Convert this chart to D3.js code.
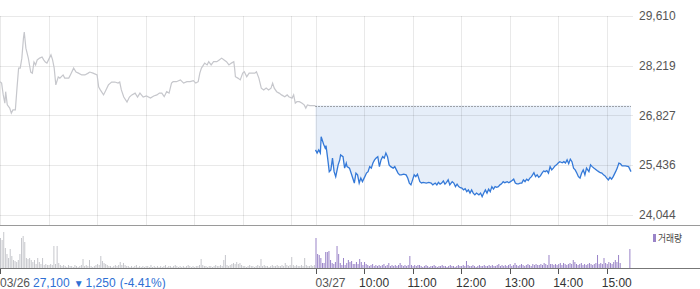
<!DOCTYPE html>
<html><head><meta charset="utf-8">
<script src="https://cdn.jsdelivr.net/npm/d3@7"></script>
<style>body{margin:0;background:#fff}svg{display:block}</style>
</head><body><svg id="c" width="700" height="289"></svg>
<script>
// minutes since 09:00 and prices, day 1 (03/26)
const d1Min=[0,2,4,6,7,9,12,14,16,19,21,23,25,27,29,30,32,35,38,40,42,44,46,49,52,54,56,58,61,63,65,67,69,72,74,78,80,85,87,91,94,97,101,105,109,111,115,120,122,124,128,131,134,138,142,146,148,150,153,157,160,163,167,170,173,177,181,186,190,194,197,200,203,206,209,212,214,218,223,227,231,235,239,242,245,247,249,253,256,258,261,264,268,271,274,277,280,283,286,289,290,291,294,297,300,302,305,308,311,315,317,320,323,326,329,332,335,337,339,342,345,348,352,355,357,361,363,365,367,370,373,376,378,380,383,390];
const d1Price=[27770,27730,27400,27170,27490,27120,27030,26890,26980,26980,27590,28150,28150,28430,28990,29160,28710,28430,28040,28010,28320,28240,28380,28430,28460,28380,28320,28290,28430,28520,28380,28150,27680,27900,27870,27960,27870,27870,27960,28150,28040,28010,27960,27960,28010,28040,28010,27960,27620,27540,27400,27540,27680,27760,27760,27730,27760,27540,27340,27200,27340,27400,27450,27340,27450,27340,27370,27310,27370,27400,27450,27450,27350,27490,27450,27730,27770,27770,27820,27730,27770,27770,27800,27730,27770,28010,28150,28290,28240,28330,28240,28330,28330,28380,28430,28380,28330,28240,28290,28330,28150,27910,27870,27820,28010,28050,27910,28010,28010,28010,28050,27870,27590,27540,27590,27540,27590,27730,27590,27490,27450,27400,27350,27400,27350,27310,27400,27170,27210,27210,27170,27120,27030,27120,27100,27100];
// day 2 (03/27)
const d2Min=[0,2,4,6,7,10,12,13,15,17,19,21,23,25,28,30,31,34,36,38,39,42,44,46,48,50,52,54,56,58,61,63,65,67,69,71,73,75,77,79,81,83,85,87,89,91,93,96,98,100,102,104,106,109,112,114,116,118,120,122,124,126,129,131,133,137,140,143,145,148,150,152,154,156,158,160,162,164,166,169,171,173,175,177,179,181,183,185,187,189,191,193,195,197,199,202,204,206,208,210,212,214,216,218,220,222,224,226,228,230,232,234,237,239,241,243,245,247,249,251,253,255,257,259,261,263,265,267,270,272,274,276,278,280,282,284,286,288,290,292,294,296,298,300,302,305,307,309,311,313,315,317,319,321,323,325,327,329,331,333,335,338,340,342,344,346,348,350,352,354,356,358,360,362,364,366,368,371,373,375,377,379,383,387,390];
const d2Price=[25860,25770,25860,25770,26230,26020,25910,25980,25630,25250,25300,25630,25250,25110,25440,25580,25720,25670,25350,25490,25390,25350,25210,25070,24930,25210,25160,24930,25070,24970,25110,25210,25250,25390,25350,25490,25580,25630,25670,25390,25580,25670,25630,25770,25670,25440,25390,25350,25390,25300,25210,25160,25160,25180,25160,25070,24930,24880,25020,25160,25110,25180,24970,24930,24950,24930,24950,24930,24880,24930,24880,24950,24900,24930,24990,24900,24950,25020,24880,24970,24930,24830,24900,24830,24800,24790,24740,24770,24690,24740,24650,24740,24650,24600,24650,24600,24650,24550,24650,24740,24650,24760,24690,24830,24760,24830,24810,24830,24880,24910,24970,24940,24970,24940,24970,25000,25040,24930,24910,24910,24930,24930,25020,24970,25040,25000,25070,25110,25220,25110,25160,25090,25130,25210,25270,25250,25280,25210,25390,25300,25350,25410,25440,25490,25530,25500,25530,25490,25580,25470,25600,25530,25350,25300,25210,25110,25070,25210,25300,25160,25350,25250,25440,25390,25350,25320,25280,25250,25220,25210,25160,25130,25070,25020,25090,25040,25110,25250,25350,25490,25470,25410,25410,25390,25250];
// volume per 2-minute bin
const vol1=[300,280,360,200,140,100,190,120,80,70,60,80,140,300,320,260,100,90,100,80,60,80,40,100,60,40,100,30,40,30,30,40,30,220,40,220,50,30,
20,30,20,10,30,20,20,10,30,20,10,20,30,
90,20,30,20,80,20,10,20,30,
40,30,120,70,50,40,30,20,20,10,20,30,20,30,60,30,50,30,20,20,
10,20,10,20,30,10,20,10,20,10,20,20,10,30,10,20,10,20,10,20,10,20,30,10,20,20,10,20,
30,20,10,20,10,20,10,20,30,20,10,20,10,20,20,30,
90,30,20,20,10,20,20,10,20,30,20,20,30,20,
80,130,30,20,30,40,50,40,60,40,50,
30,20,20,10,20,30,20,20,10,20,30,20,
90,20,30,20,20,10,20,30,20,20,30,20,20,30,20,
50,30,20,30,110,30,20,30,20,20,30,20,100,30,20,20,30,20,30];
const vol2=[300,140,130,100,50,50,160,160,170,80,50,40,60,220,140,50,30,100,30,50,80,60,70,40,40,60,40,90,60,30,
60,40,30,20,30,40,20,30,20,30,20,30,40,20,30,
50,20,30,20,30,20,30,50,30,20,30,20,30,120,30,20,30,20,30,30,
20,10,20,30,20,10,20,20,30,20,10,20,20,30,20,20,10,20,30,20,20,10,20,30,20,20,30,20,
70,30,20,20,30,20,10,20,30,20,20,30,20,20,30,20,30,20,20,30,40,20,30,20,30,20,30,40,20,30,
50,30,20,30,40,30,20,30,40,30,20,40,30,40,30,30,40,30,50,40,30,
130,40,40,30,40,30,40,50,30,50,40,30,40,50,40,80,60,40,30,40,50,30,40,30,40,50,40,30,40,50,
130,40,50,40,100,50,40,60,50,40,60,80,60,130,50,0,0,0,0,0,190];
const yTicks=[29610,28219,26827,25436,24044];
const hourLabels=["10:00","11:00","12:00","13:00","14:00","15:00"];
const dateLabels=["03/26","03/27"];
const prevClose=27100;
const infoPrice="27,100", infoChange="1,250", infoPct="(-4.41%)";
const legendLabel="거래량";

const svg=d3.select("#c");
const x=d3.scaleLinear().domain([0,780]).range([0,631]);
const y=d3.scaleLinear().domain([24044,29610]).range([214.7,16]);
const yv=d3.scaleLinear().domain([0,400]).range([268,228]);
const fmt=d3.format(",");
const font="Liberation Sans, Arial, sans-serif";

const day1=d1Min.map((m,i)=>({t:m,p:d1Price[i]}));
const day2=d2Min.map((m,i)=>({t:390+m,p:d2Price[i]}));

// fill area between prev close and day 2 line
svg.append("path").datum(day2)
  .attr("d",d3.area().x(d=>x(d.t)).y0(y(prevClose)).y1(d=>y(d.p)))
  .attr("fill","#e6eef9");

// grid
const grid=svg.append("g").attr("stroke","rgba(0,0,0,0.085)").attr("stroke-width",1);
yTicks.forEach(v=>{
  const yy=Math.round(y(v))+0.5;
  grid.append("line").attr("x1",0).attr("x2",633).attr("y1",yy).attr("y2",yy);
});
const gridMins=d3.range(0,361,60).concat(d3.range(390,751,60));
gridMins.forEach(m=>{
  const xx=Math.round(x(m))+0.5;
  grid.append("line").attr("x1",xx).attr("x2",xx).attr("y1",16).attr("y2",225);
});

// prev close dotted line
svg.append("line").attr("x1",x(390)).attr("x2",x(780))
  .attr("y1",Math.round(y(prevClose))+0.5).attr("y2",Math.round(y(prevClose))+0.5)
  .attr("stroke","#555").attr("stroke-dasharray","1,2");

const line=d3.line().x(d=>x(d.t)).y(d=>y(d.p));
svg.append("path").datum(day1).attr("d",line).attr("fill","none")
  .attr("stroke","#c6c7cc").attr("stroke-width",1.2);
svg.append("path").datum(day2).attr("d",line).attr("fill","none")
  .attr("stroke","#3479d8").attr("stroke-width",1.3);

// y labels
svg.append("g").selectAll("text").data(yTicks).join("text")
  .attr("x",639).attr("y",d=>y(d)+4.2)
  .attr("font-family",font).attr("font-size",12).attr("fill","#555")
  .text(d=>fmt(d));

// panel border lines
svg.append("line").attr("x1",0).attr("x2",700).attr("y1",225.5).attr("y2",225.5).attr("stroke","#9a9a9a");

// volume bars
svg.append("g").selectAll("rect").data(vol1).join("rect")
  .attr("x",(d,i)=>x(2*i)).attr("width",1)
  .attr("y",d=>yv(d)).attr("height",d=>yv(0)-yv(d)).attr("fill","#c6c7cc");
svg.append("g").selectAll("rect").data(vol2).join("rect")
  .attr("x",(d,i)=>x(390+2*i)).attr("width",1)
  .attr("y",d=>yv(d)).attr("height",d=>yv(0)-yv(d)).attr("fill","#9a84c8");

svg.append("line").attr("x1",0).attr("x2",700).attr("y1",268.5).attr("y2",268.5).attr("stroke","#777");

// ticks
const tickMins=[0,390].concat(d3.range(450,751,60));
svg.append("g").selectAll("line").data(tickMins).join("line")
  .attr("x1",d=>Math.round(x(d))+0.5).attr("x2",d=>Math.round(x(d))+0.5)
  .attr("y1",269).attr("y2",274).attr("stroke","#555");

// bottom labels
const lab=svg.append("g").attr("font-family",font).attr("font-size",12);
lab.append("text").attr("x",x(0)).attr("y",287).attr("fill","#555").text(dateLabels[0]);
lab.append("text").attr("x",x(390)).attr("y",287).attr("fill","#555").text(dateLabels[1]);
lab.selectAll("text.h").data(hourLabels).join("text").attr("class","h")
  .attr("x",(d,i)=>x(450+60*i)-5).attr("y",287).attr("fill","#333").text(d=>d);
const info=lab.append("text").attr("x",33).attr("y",287).attr("fill","#2e6fd4");
info.append("tspan").text(infoPrice);
info.append("tspan").attr("dx",4).attr("font-size",10).text("▼");
info.append("tspan").attr("dx",2).text(infoChange);
info.append("tspan").attr("dx",4).text(infoPct);

// legend
svg.append("rect").attr("x",653).attr("y",234).attr("width",3).attr("height",8).attr("fill","#9a84c8");
svg.append("text").attr("x",658).attr("y",241.5)
  .attr("font-family","Noto Sans CJK KR, sans-serif").attr("font-size",10)
  .attr("textLength",24).attr("lengthAdjust","spacingAndGlyphs")
  .attr("fill","#444").text(legendLabel);
</script></body></html>
